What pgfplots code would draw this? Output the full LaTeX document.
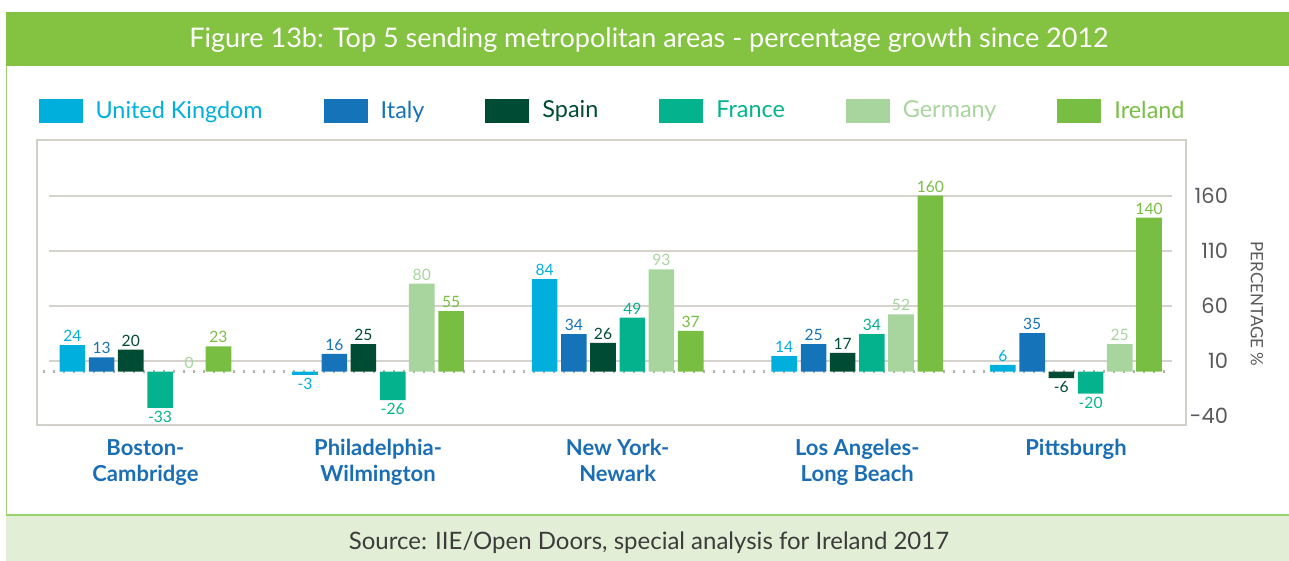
\documentclass[border=0pt]{standalone}
\usepackage{pgfplots}
\pgfplotsset{compat=1.18}
\usepackage{fontspec}
\setmainfont{Lato}
\newfontfamily\tickfont{Poppins}

\definecolor{ukc}{HTML}{00AFDB}
\definecolor{itc}{HTML}{1473B9}
\definecolor{esc}{HTML}{004B33}
\definecolor{frc}{HTML}{04B38D}
\definecolor{dec}{HTML}{A8D59D}
\definecolor{iec}{HTML}{77BE43}
\definecolor{headgreen}{HTML}{84C341}
\definecolor{footgreen}{HTML}{E2EFD6}
\definecolor{linegreen}{HTML}{9CCF6E}
\definecolor{framegray}{HTML}{D3D0C9}
\definecolor{gridc}{HTML}{D6D3CC}
\definecolor{dotc}{HTML}{B5B2AA}
\definecolor{catblue}{HTML}{1A6EB5}
\definecolor{tickgray}{HTML}{58595B}
\definecolor{srcgray}{HTML}{3C3C3C}

\pgfplotsset{
  mybar/.style={fill=#1, draw=none,
    every node near coord/.append style={text=#1},
    legend image code/.code={\fill[#1] (0pt,-6pt) rectangle (22pt,6pt);}},
}

\begin{document}
\begin{tikzpicture}
\begin{scope}[x=0.5pt,y=-0.5pt]
\path[use as bounding box] (0,0) rectangle (1289,561);
\fill[headgreen] (6,12) rectangle (1289,66);
\node[text=white, font=\fontsize{13.5}{16}\selectfont] at (649,40)
  {Figure 13b: Top 5 sending metropolitan areas - percentage growth since 2012};
\fill[footgreen] (6,515) rectangle (1289,561);
\draw[linegreen, line width=0.8pt] (6.5,66) -- (6.5,515) -- (1289,515);
\node[text=srcgray, font=\fontsize{12}{14}\selectfont] at (649,543)
  {Source: IIE/Open Doors, special analysis for Ireland 2017};
\node[rotate=-90, text=tickgray, font=\fontsize{8.5}{10}\selectfont] at (1257,304)
  {PERCENTAGE \%};
\end{scope}

\begin{axis}[
  at={(18.5pt,-212.5pt)}, anchor=south west,
  scale only axis, width=574.5pt, height=142.75pt,
  xmin=-0.466, xmax=4.473, ymin=-48.6, ymax=211,
  ybar, bar width=0.11,
  axis line style={draw=framegray, line width=1pt},
  major tick length=0pt,
  ytick={-40,10,60,110,160},
  yticklabel pos=right,
  yticklabel style={anchor=east, xshift=24.5pt, text=tickgray, font=\tickfont\fontsize{10.5}{12}\selectfont},
  xtick={0,1,2.03,3.06,4},
  xticklabels={{Boston-\\Cambridge},{Philadelphia-\\Wilmington},{New York-\\Newark},{Los Angeles-\\Long Beach},{Pittsburgh}},
  xticklabel style={align=center, text=catblue, yshift=-3.7pt,
    font=\bfseries\fontsize{11}{13}\selectfont},
  /pgf/number format/assume math mode=true,
  nodes near coords, nodes near coords align=vertical,
  every node near coord/.append style={font=\fontsize{7.8}{9}\selectfont, inner sep=1.5pt},
  legend columns=6,
  legend style={at={(0.001,1.1)}, anchor=west, draw=none, fill=none, inner sep=0pt,
    font=\fontsize{11.7}{13}\selectfont,
    /tikz/every odd column/.append style={column sep=4.5pt},
    /tikz/every even column/.append style={column sep=28.5pt}},
]
\draw[gridc, line width=1pt] (axis cs:-0.415,160) -- (axis cs:4.413,160);
\draw[gridc, line width=1pt] (axis cs:-0.415,110) -- (axis cs:4.413,110);
\draw[gridc, line width=1pt] (axis cs:-0.415,60) -- (axis cs:4.413,60);
\draw[gridc, line width=1pt] (axis cs:-0.415,10) -- (axis cs:4.413,10);
\draw[dotc, line width=1.1pt, dash pattern=on 1pt off 4pt] (axis cs:-0.44,0) -- (axis cs:4.413,0);

\addplot[mybar=ukc, bar shift=-0.314] coordinates {(0,24) (1,-3) (2.03,84) (3.06,14) (4,6)};
\addlegendentry[text=ukc]{United Kingdom}
\addplot[mybar=itc, bar shift=-0.188] coordinates {(0,13) (1,16) (2.03,34) (3.06,25) (4,35)};
\addlegendentry[text=itc]{Italy}
\addplot[mybar=esc, bar shift=-0.063] coordinates {(0,20) (1,25) (2.03,26) (3.06,17) (4,-6)};
\addlegendentry[text=esc]{Spain}
\addplot[mybar=frc, bar shift=0.063] coordinates {(0,-33) (1,-26) (2.03,49) (3.06,34) (4,-20)};
\addlegendentry[text=frc]{France}
\addplot[mybar=dec, bar shift=0.188] coordinates {(0,0) (1,80) (2.03,93) (3.06,52) (4,25)};
\addlegendentry[text=dec]{Germany}
\addplot[mybar=iec, bar shift=0.314] coordinates {(0,23) (1,55) (2.03,37) (3.06,160) (4,140)};
\addlegendentry[text=iec]{Ireland}
\end{axis}
\end{tikzpicture}
\end{document}
